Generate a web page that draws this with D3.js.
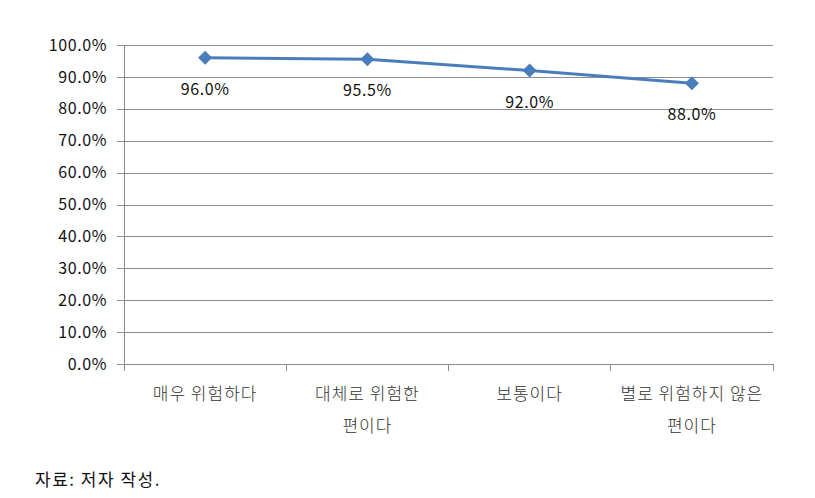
<!DOCTYPE html>
<html><head><meta charset="utf-8">
<script src="https://cdn.jsdelivr.net/npm/d3@7/dist/d3.min.js"></script>
<style>body{margin:0;background:#fff;}</style>
</head><body>
<svg id="chart" width="815" height="498"></svg>
<script>
const categories = [["매우 위험하다"], ["대체로 위험한", "편이다"], ["보통이다"], ["별로 위험하지 않은", "편이다"]];
const values = [0.96, 0.955, 0.92, 0.88];
const valueLabels = ["96.0%", "95.5%", "92.0%", "88.0%"];
const yTicks = [0, 0.1, 0.2, 0.3, 0.4, 0.5, 0.6, 0.7, 0.8, 0.9, 1.0];
const sourceText = "자료: 저자 작성.";

(function() {
const svg = d3.select("#chart");
const mLeft = 124, mRight = 773, mTop = 45, mBottom = 364;
const x = d3.scaleBand().domain(d3.range(categories.length)).range([mLeft, mRight]);
const y = d3.scaleLinear().domain([0, 1]).range([mBottom, mTop]);
const font = "'Noto Sans CJK KR', 'DejaVu Sans', sans-serif";

// gridlines
svg.append("g").selectAll("line").data(yTicks.filter(d => d > 0)).join("line")
  .attr("x1", mLeft).attr("x2", mRight)
  .attr("y1", d => Math.round(y(d)) + 0.5).attr("y2", d => Math.round(y(d)) + 0.5)
  .attr("stroke", "#8c8c8c").attr("stroke-width", 1);

// y axis
const yAxis = d3.axisLeft(y).tickValues(yTicks).tickFormat(d3.format(".1%")).tickSize(7).tickPadding(10);
const gy = svg.append("g").attr("transform", `translate(${mLeft},0)`).call(yAxis);
gy.selectAll("path, line").attr("stroke", "#8c8c8c").attr("shape-rendering", "crispEdges");
gy.selectAll("text").attr("font-family", font).attr("font-size", 16).attr("letter-spacing", 0.6).attr("fill", "#111");

// x axis
const xAxis = d3.axisBottom(x).tickSize(0).tickFormat("");
const gx = svg.append("g").attr("transform", `translate(0,${mBottom})`).call(xAxis);
gx.select("path").attr("stroke", "#8c8c8c").attr("shape-rendering", "crispEdges");
const bounds = d3.range(categories.length + 1).map(i => i < categories.length ? x(i) : x(categories.length - 1) + x.bandwidth());
gx.selectAll("line.bt").data(bounds).join("line").attr("class", "bt")
  .attr("x1", d => d).attr("x2", d => d).attr("y1", 0).attr("y2", 7)
  .attr("stroke", "#8c8c8c").attr("shape-rendering", "crispEdges");

// category labels
const cl = svg.append("g").selectAll("text").data(categories).join("text")
  .attr("x", (d, i) => x(i) + x.bandwidth() / 2)
  .attr("y", 400)
  .attr("text-anchor", "middle")
  .attr("font-family", font).attr("font-size", 17).attr("font-weight", 300)
  .attr("letter-spacing", 1).attr("fill", "#333");
cl.selectAll("tspan").data(d => d).join("tspan")
  .attr("x", function() { return d3.select(this.parentNode).attr("x"); })
  .attr("dy", (d, i) => i === 0 ? 0 : 32)
  .text(d => d);

// line
const line = d3.line().x((d, i) => x(i) + x.bandwidth() / 2).y(d => y(d));
svg.append("path").datum(values).attr("d", line)
  .attr("fill", "none").attr("stroke", "#4a7ebb").attr("stroke-width", 3).attr("stroke-linejoin", "round");

// markers
svg.append("g").selectAll("path").data(values).join("path")
  .attr("transform", (d, i) => `translate(${x(i) + x.bandwidth() / 2},${y(d)})`)
  .attr("d", "M0,-7L7,0L0,7L-7,0Z")
  .attr("fill", "#4a7ebb");

// value labels
svg.append("g").selectAll("text").data(values).join("text")
  .attr("x", (d, i) => x(i) + x.bandwidth() / 2)
  .attr("y", d => y(d) + 37)
  .attr("text-anchor", "middle")
  .attr("font-family", font).attr("font-size", 16).attr("letter-spacing", 0.6).attr("fill", "#111")
  .text((d, i) => valueLabels[i]);

// source
svg.append("text").attr("x", 35).attr("y", 486)
  .attr("font-family", font).attr("font-size", 17).attr("letter-spacing", 1.5).attr("fill", "#111")
  .text(sourceText);
})();
</script>
</body></html>
